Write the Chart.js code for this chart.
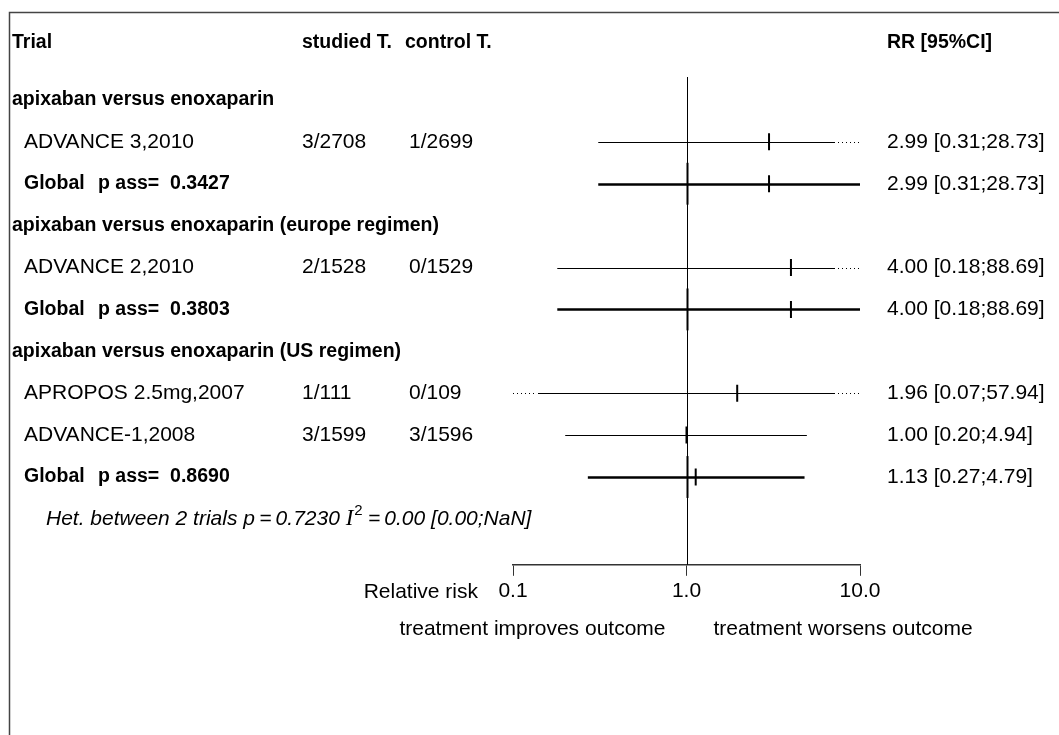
<!DOCTYPE html>
<html><head><meta charset="utf-8">
<script src="https://cdn.jsdelivr.net/npm/chart.js@4"></script>
<style>html,body{margin:0;padding:0;background:#fff;}</style>
</head><body>
<canvas id="c" width="1059" height="735"></canvas>
<script>
// ---- data ----
const headers = ['Trial', 'studied T.', 'control T.', 'RR [95%CI]'];
const rowLabels = ['apixaban versus enoxaparin', 'ADVANCE 3,2010', 'Global',
  'apixaban versus enoxaparin (europe regimen)', 'ADVANCE 2,2010', 'Global',
  'apixaban versus enoxaparin (US regimen)', 'APROPOS 2.5mg,2007', 'ADVANCE-1,2008', 'Global', 'Het'];
const rowTypes = ['group','trial','global','group','trial','global','group','trial','trial','global','het'];
const studied = ['', '3/2708', '', '', '2/1528', '', '', '1/111', '3/1599', '', ''];
const control = ['', '1/2699', '', '', '0/1529', '', '', '0/109', '3/1596', '', ''];
const rr = [null, 2.99, 2.99, null, 4.00, 4.00, null, 1.96, 1.00, 1.13, null];
const lo = [null, 0.31, 0.31, null, 0.18, 0.18, null, 0.07, 0.20, 0.27, null];
const hi = [null, 28.73, 28.73, null, 88.69, 88.69, null, 57.94, 4.94, 4.79, null];
const pAss = ['', '', '0.3427', '', '', '0.3803', '', '', '', '0.8690', ''];
const hetText = ['Het. between 2 trials p\u2009=\u20090.7230 ', 'I', '2', '\u2009=\u20090.00 [0.00;NaN]'];
const xTicks = [0.1, 1, 10];
const axisTitle = 'Relative risk';
const leftNote = 'treatment improves outcome';
const rightNote = 'treatment worsens outcome';

const REG = '21px "Liberation Sans"';
const BOLD = 'bold 19.5px "Liberation Sans"';
const ITAL = 'italic 21px "Liberation Sans"';

const fmtCI = i => rr[i].toFixed(2) + ' [' + lo[i].toFixed(2) + ';' + hi[i].toFixed(2) + ']';

const points = [];
rr.forEach((v, i) => { if (v !== null) points.push({x: v, y: i + 1}); });

const forest = {
  id: 'forest',
  beforeDatasetsDraw(chart) {
    const ctx = chart.ctx, xs = chart.scales.x, ys = chart.scales.y, a = chart.chartArea;
    ctx.save();
    // frame
    ctx.strokeStyle = '#444'; ctx.lineWidth = 1.5;
    ctx.beginPath(); ctx.moveTo(9.5, 740); ctx.lineTo(9.5, 12.5); ctx.lineTo(1065, 12.5); ctx.stroke();
    // reference line at 1
    const x1 = Math.round(xs.getPixelForValue(1)) + 0.5;
    ctx.strokeStyle = '#000'; ctx.lineWidth = 1;
    ctx.beginPath(); ctx.moveTo(x1, a.top); ctx.lineTo(x1, a.bottom); ctx.stroke();
    rowTypes.forEach((t, i) => {
      if (t === 'global') {
        ctx.lineWidth = 2;
        ctx.beginPath();
        ctx.moveTo(x1, ys.getPixelForValue(i + 0.5)); ctx.lineTo(x1, ys.getPixelForValue(i + 1.5));
        ctx.stroke();
      }
    });
    // CI lines
    rowTypes.forEach((t, i) => {
      if (rr[i] === null) return;
      const y = Math.round(ys.getPixelForValue(i + 1)) + 0.5;
      let xl = xs.getPixelForValue(lo[i]), xr = xs.getPixelForValue(hi[i]);
      const clipL = xl < a.left, clipR = xr > a.right;
      xl = Math.max(xl, a.left); xr = Math.min(xr, a.right);
      ctx.strokeStyle = '#000';
      if (t === 'global') {
        ctx.lineWidth = 2.5; ctx.setLineDash([]);
        ctx.beginPath(); ctx.moveTo(xl, y); ctx.lineTo(xr, y); ctx.stroke();
      } else {
        ctx.lineWidth = 1;
        const sl = clipL ? xl + 25 : xl, sr = clipR ? xr - 25 : xr;
        ctx.setLineDash([]);
        ctx.beginPath(); ctx.moveTo(sl, y); ctx.lineTo(sr, y); ctx.stroke();
        ctx.setLineDash([1, 3]);
        if (clipL) { ctx.beginPath(); ctx.moveTo(xl, y); ctx.lineTo(sl - 2, y); ctx.stroke(); }
        if (clipR) { ctx.beginPath(); ctx.moveTo(sr + 3, y); ctx.lineTo(xr, y); ctx.stroke(); }
        ctx.setLineDash([]);
      }
    });
    ctx.restore();
  },
  afterDraw(chart) {
    const ctx = chart.ctx, xs = chart.scales.x, ys = chart.scales.y;
    ctx.save();
    ctx.fillStyle = '#000'; ctx.textBaseline = 'middle'; ctx.textAlign = 'left';
    const yh = ys.getPixelForValue(1 - 57 / 42);
    ctx.font = BOLD;
    ctx.fillText(headers[0], 12, yh);
    ctx.fillText(headers[1], 302, yh);
    ctx.fillText(headers[2], 405, yh);
    ctx.fillText(headers[3], 887, yh);
    rowTypes.forEach((t, i) => {
      const y = ys.getPixelForValue(i + 1);
      if (t === 'group') { ctx.font = BOLD; ctx.fillText(rowLabels[i], 12, y); }
      else if (t === 'trial') {
        ctx.font = REG;
        ctx.fillText(rowLabels[i], 24, y);
        ctx.fillText(studied[i], 302, y);
        ctx.fillText(control[i], 409, y);
        ctx.fillText(fmtCI(i), 887, y);
      } else if (t === 'global') {
        ctx.font = BOLD;
        ctx.fillText(rowLabels[i], 24, y);
        ctx.fillText('p ass=  ' + pAss[i], 98, y);
        ctx.font = REG;
        ctx.fillText(fmtCI(i), 887, y);
      } else if (t === 'het') {
        let x = 46;
        ctx.font = ITAL; ctx.fillText(hetText[0], x, y); x += ctx.measureText(hetText[0]).width;
        ctx.font = 'italic 23px "Liberation Serif"'; ctx.fillText(hetText[1], x, y); x += ctx.measureText(hetText[1]).width + 1;
        ctx.font = '15px "Liberation Sans"'; ctx.fillText(hetText[2], x, y - 8); x += ctx.measureText(hetText[2]).width + 1;
        ctx.font = ITAL; ctx.fillText(hetText[3], x, y);
      }
    });
    // axis notes
    const x1 = xs.getPixelForValue(1);
    const yTick = xs.top + 27;
    ctx.font = REG;
    ctx.textAlign = 'right';
    ctx.fillText(axisTitle, xs.getPixelForValue(xTicks[0]) - 35, yTick);
    ctx.fillText(leftNote, x1 - 21, yTick + 37);
    ctx.textAlign = 'left';
    ctx.fillText(rightNote, x1 + 27, yTick + 37);
    ctx.restore();
  }
};

new Chart(document.getElementById('c'), {
  type: 'scatter',
  data: { datasets: [{
    data: points,
    pointStyle: 'line', rotation: 90, radius: 8.5, hoverRadius: 8.5,
    borderColor: '#000', backgroundColor: '#000', borderWidth: 2
  }]},
  options: {
    responsive: false, animation: false, devicePixelRatio: 1,
    layout: { padding: { left: 513, right: 199, top: 77, bottom: 128 } },
    plugins: { legend: { display: false }, tooltip: { enabled: false } },
    scales: {
      x: {
        type: 'logarithmic', min: 0.1, max: 10, position: 'bottom',
        afterBuildTicks: s => { s.ticks = xTicks.map(v => ({ value: v })); },
        ticks: { callback: v => Number(v).toFixed(1), color: '#000', font: { family: 'Liberation Sans', size: 21 }, padding: 3, maxRotation: 0, autoSkip: false },
        grid: { display: true, drawOnChartArea: false, drawTicks: true, tickLength: 11, color: '#333', lineWidth: 1 },
        border: { display: true, color: '#333', width: 1.5 }
      },
      y: { type: 'linear', reverse: true, display: false, min: 1 - 23 / 42, max: 11 + 46 / 42 }
    }
  },
  plugins: [forest]
});
</script>
</body></html>
